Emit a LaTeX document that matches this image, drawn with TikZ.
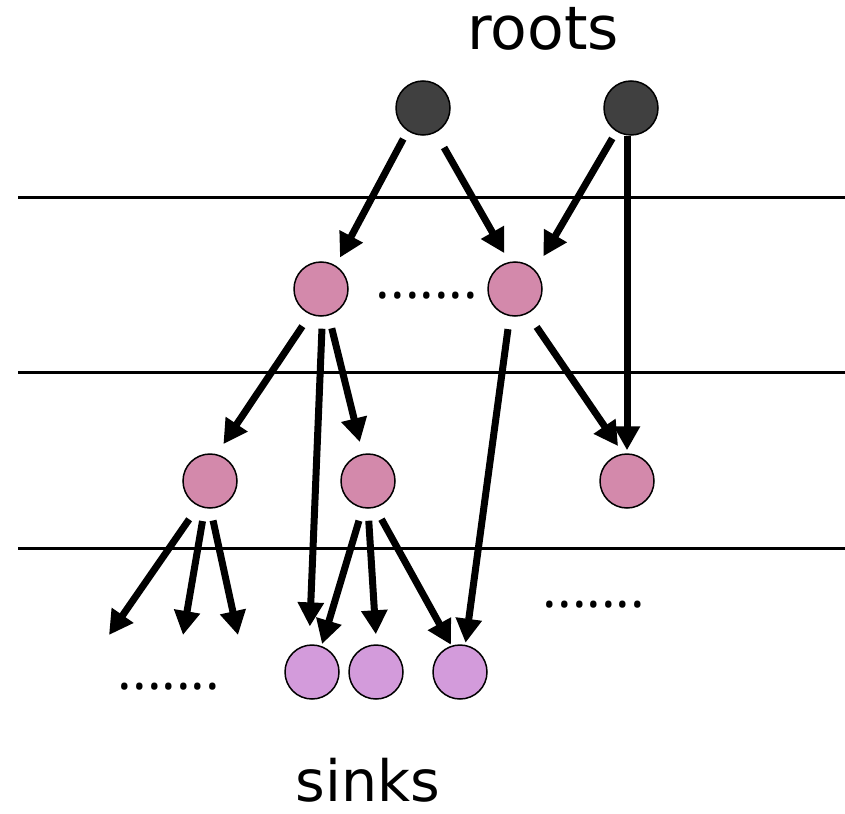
\documentclass[tikz,border=0pt]{standalone}
\usepackage{fontspec}
\setmainfont{DejaVu Sans}
\newfontfamily\dotfont{Open Sans}
\usetikzlibrary{arrows.meta}

\definecolor{rootgray}{HTML}{404040}
\definecolor{midpink}{HTML}{D389AB}
\definecolor{sinkpurple}{HTML}{D39BDB}

\tikzset{
	vertex/.style={circle, draw=black, line width=1.5pt, minimum size=54pt, inner sep=0pt},
	rootnode/.style={vertex, fill=rootgray},
	midnode/.style={vertex, fill=midpink},
	sinknode/.style={vertex, fill=sinkpurple},
	flow/.style={line width=7pt, -{Triangle[length=24pt,width=25pt]}},
	layerline/.style={line width=3pt},
	dots/.style={inner sep=0pt, anchor=base, font=\dotfont\fontsize{55}{60}\selectfont},
	captiontext/.style={inner sep=0pt, anchor=base, text depth=0pt}
}

\begin{document}
\begin{tikzpicture}[x=1pt,y=-1pt]
	\useasboundingbox (0,0) rectangle (845,813);
	\draw[layerline] (18,197) -- (845,197);
	\draw[layerline] (18,372) -- (845,372);
	\draw[layerline] (18,548) -- (845,548);
	\node[rootnode] (r1) at (423,108) {};
	\node[rootnode] (r2) at (631,108) {};
	\node[midnode] (m1) at (321,289) {};
	\node[midnode] (m2) at (515,289) {};
	\node[midnode] (l1) at (210,481) {};
	\node[midnode] (l2) at (368,481) {};
	\node[midnode] (l3) at (627,481) {};
	\node[sinknode] (s1) at (312,672) {};
	\node[sinknode] (s2) at (376,672) {};
	\node[sinknode] (s3) at (460,672) {};
	\coordinate (f1) at (109,635);
	\coordinate (f2) at (183,635);
	\coordinate (f3) at (238,635);
	\draw[flow, shorten <=9pt, shorten >=9pt] (r1.236) -- (m1.58);
	\draw[flow, shorten <=17pt, shorten >=10pt] (r1.-63) -- (m2.102);
	\draw[flow, shorten <=8pt, shorten >=16pt] (r2.238) -- (m2.43);
	\draw[flow, shorten >=3pt] (l3.north |- r2.south) -- (l3.north);
	\draw[flow, shorten <=16pt, shorten >=9pt] (m2.-63) -- (l3.98);
	\draw[flow, shorten <=14pt, shorten >=12pt] (m1.247) -- (l1.76);
	\draw[flow, shorten <=12pt, shorten >=18pt] (m1.-87) -- (s1.96);
	\draw[flow, shorten <=13pt, shorten >=12pt] (m1.-74) -- (l2.101);
	\draw[flow, shorten <=13pt, shorten >=2pt] (m2.259) -- (s3.79);
	\draw[flow, shorten <=16pt] (l1.245) -- (f1);
	\draw[flow, shorten <=13pt] (l1.259) -- (f2);
	\draw[flow, shorten <=12pt] (l1.271) -- (f3);
	\draw[flow, shorten <=13pt, shorten >=2pt] (l2.259) -- (s1.70);
	\draw[flow, shorten <=12pt, shorten >=10pt] (l2.270) -- (s2.89);
	\draw[flow, shorten <=13pt, shorten >=1pt] (l2.-75) -- (s3.108);
	\node[captiontext, font=\fontsize{60}{66}\selectfont] (rootslabel) at (543,50) {roots};
	\node[captiontext, font=\fontsize{57}{63}\selectfont] (sinkslabel) at (368,801) {sinks};
	\node[dots] (middots) at (427,298) {.......};
	\node[dots] (rightdots) at (594,607) {.......};
	\node[dots] (leftdots) at (169,689) {.......};
\end{tikzpicture}
\end{document}
